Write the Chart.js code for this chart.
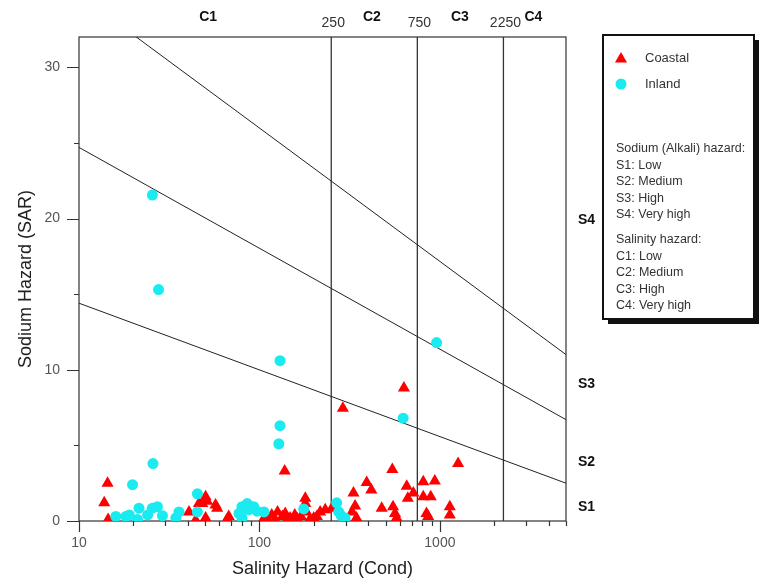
<!DOCTYPE html>
<html>
<head>
<meta charset="utf-8">
<title>Wilcox diagram</title>
<script src="https://cdn.jsdelivr.net/npm/chart.js@4.4.1/dist/chart.umd.min.js"></script>
<style>
  html, body { margin: 0; padding: 0; background: #fff; }
  #wrap { position: relative; width: 760px; height: 587px; }
</style>
</head>
<body>
<div id="wrap"><canvas id="wilcoxChart"></canvas></div>
<script>
// [conductivity, SAR] per sample
const coastalPoints = [
  [13.8, 1.2], [14.4, 2.5], [14.5, 0.1],
  [40.7, 0.6], [44.3, 0.05], [46.2, 1.15], [48.2, 1.15], [50.3, 1.6], [51.3, 1.3], [50.3, 0.2],
  [57.1, 1.05], [58.3, 0.85], [66.2, 0.1], [67.6, 0.3],
  [105, 0.1], [110, 0.2], [117, 0.4], [122, 0.1], [126, 0.6], [134, 0.3], [139, 0.5], [143, 0.1],
  [148, 0.2], [157, 0.4], [162, 0.15], [170, 0.3], [182, 0.6], [190, 0.1], [200, 0.2],
  [138, 3.3], [179.5, 1.5], [179.5, 1.15],
  [208, 0.3], [217, 0.6], [231.6, 0.75], [252, 0.85], [290, 7.45],
  [326, 0.6], [332, 1.85], [339, 1.0], [345, 0.2], [393, 2.55], [417, 2.05],
  [476, 0.85], [545, 3.4], [550, 0.95], [564, 0.5], [576, 0.2], [632, 8.8],
  [655, 2.3], [664, 1.5], [713, 1.85], [809, 2.6], [809, 1.6], [843, 0.5], [861, 0.3], [890, 1.6], [937, 2.65],
  [1135, 0.95], [1135, 0.4], [1262, 3.8]
];
const inlandPoints = [
  [16.0, 0.3], [18.2, 0.3], [19.0, 0.4], [19.8, 2.4], [21.1, 0.1], [21.5, 0.85], [24.0, 0.4],
  [25.5, 0.85], [25.5, 21.55], [25.7, 3.8], [27.2, 0.95], [27.6, 15.3], [29.0, 0.35],
  [34.4, 0.2], [35.8, 0.6], [45.3, 1.8], [45.3, 0.6],
  [77, 0.5], [80, 0.95], [80, 0.2], [85.5, 1.15], [87, 0.75], [93, 0.95], [97, 0.65], [106, 0.6],
  [128, 5.1], [130, 6.3], [130, 10.6], [176, 0.8],
  [268, 1.2], [275, 0.6], [284, 0.35], [298, 0.2],
  [626, 6.8], [959, 11.8]
];

// sodium hazard class boundaries, [cond, SAR] at both ends
const s1s2Line = [[10, 14.4], [5000, 2.5]];
const s2s3Line = [[10, 24.7], [5000, 6.7]];
const s3s4Line = [[10, 34.8], [5000, 11.0]];
// salinity hazard class boundaries (cond)
const salinityLimits = [250, 750, 2250];

const condRange = [10, 5000];
const sarRange = [0, 32];
const xTickLabels = [10, 100, 1000];
const yTickLabels = [0, 10, 20, 30];

const sodiumClasses = ['S1', 'S2', 'S3', 'S4'];
const salinityClasses = ['C1', 'C2', 'C3', 'C4'];
const legendNotes = [
  'Sodium (Alkali) hazard:', 'S1: Low', 'S2: Medium', 'S3: High', 'S4: Very high',
  'Salinity hazard:', 'C1: Low', 'C2: Medium', 'C3: High', 'C4: Very high'
];

const FONT = 'Arial, "Liberation Sans", sans-serif';
const RED = '#ff0000';
const CYAN = 'rgb(25,235,240)';

function toXY(list) {
  return list.map(p => ({x: p[0], y: p[1]}));
}

function boundary(points) {
  return {
    data: toXY(points), showLine: true, pointRadius: 0, borderColor: '#222',
    borderWidth: 1, order: 3
  };
}

const wilcoxDecor = {
  id: 'wilcoxDecor',
  beforeDatasetsDraw(chart) {
    const {ctx, chartArea: a} = chart;
    ctx.save();
    ctx.strokeStyle = '#333';
    ctx.lineWidth = 1.2;
    ctx.strokeRect(a.left, a.top, a.right - a.left, a.bottom - a.top);
    ctx.restore();
  },
  afterDraw(chart) {
    const {ctx, chartArea: a, scales: {x, y}} = chart;
    ctx.save();

    // tick marks, long on labelled values
    ctx.strokeStyle = '#333';
    ctx.lineWidth = 1.2;
    ctx.beginPath();
    for (let v = sarRange[0]; v <= 30; v += 5) {
      const py = Math.round(y.getPixelForValue(v)) + 0.5;
      const len = yTickLabels.includes(v) ? 12 : 5;
      ctx.moveTo(a.left - len, py);
      ctx.lineTo(a.left, py);
    }
    for (let d = 10; d <= 1000; d *= 10) {
      for (let m = 1; m <= 9; m++) {
        const v = m * d;
        if (v > condRange[1]) break;
        const px = Math.round(x.getPixelForValue(v)) + 0.5;
        const len = m === 1 ? 11 : 5;
        ctx.moveTo(px, a.bottom);
        ctx.lineTo(px, a.bottom + len);
      }
    }
    ctx.stroke();

    // salinity class names and limits along the top
    ctx.textAlign = 'center';
    ctx.textBaseline = 'middle';
    ctx.fillStyle = '#111';
    ctx.font = 'bold 14px ' + FONT;
    const classCond = [52, 420, 1290, 3300];
    salinityClasses.forEach((c, i) => ctx.fillText(c, x.getPixelForValue(classCond[i]), 17));
    ctx.font = '14px ' + FONT;
    ctx.fillStyle = '#333';
    salinityLimits.forEach(v => ctx.fillText(String(v), x.getPixelForValue(v) + 2, 23));

    // sodium class names on the right
    ctx.font = 'bold 14px ' + FONT;
    ctx.fillStyle = '#111';
    ctx.textAlign = 'left';
    const classSar = [0.9, 3.9, 9.05, 19.9];
    sodiumClasses.forEach((c, i) => ctx.fillText(c, a.right + 12, y.getPixelForValue(classSar[i])));

    // legend box with drop shadow
    const bx = 603, by = 35, bw = 151, bh = 284;
    ctx.fillStyle = '#111';
    ctx.fillRect(bx + 5, by + 5, bw, bh);
    ctx.fillStyle = '#fff';
    ctx.fillRect(bx, by, bw, bh);
    ctx.strokeStyle = '#111';
    ctx.lineWidth = 2;
    ctx.strokeRect(bx, by, bw, bh);

    const sets = chart.data.datasets;
    [sets[1], sets[0]].forEach((ds, i) => {
      const cy = 58 + i * 26;
      ctx.fillStyle = ds.backgroundColor;
      ctx.strokeStyle = ds.backgroundColor;
      ctx.lineWidth = 0;
      Chart.helpers.drawPoint(ctx, {pointStyle: ds.pointStyle, radius: ds.pointRadius, rotation: 0, borderWidth: 0}, 621, cy + (i === 0 ? 1 : 0));
      ctx.fillStyle = '#333';
      ctx.font = '13px ' + FONT;
      ctx.fillText(ds.label, 645, cy);
    });

    ctx.font = '12.5px ' + FONT;
    ctx.fillStyle = '#333';
    legendNotes.forEach((t, i) => {
      const ty = 149 + i * 16.4 + (i >= 5 ? 9 : 0);
      ctx.fillText(t, 616, ty);
    });

    ctx.restore();
  }
};

new Chart(document.getElementById('wilcoxChart'), {
  type: 'scatter',
  data: {
    datasets: [
      {label: 'Inland', data: toXY(inlandPoints), pointStyle: 'circle', pointRadius: 5.5,
       backgroundColor: CYAN, borderColor: CYAN, borderWidth: 0, order: 1},
      {label: 'Coastal', data: toXY(coastalPoints), pointStyle: 'triangle', pointRadius: 7,
       backgroundColor: RED, borderColor: RED, borderWidth: 0, order: 2},
      boundary(s1s2Line),
      boundary(s2s3Line),
      boundary(s3s4Line),
      ...salinityLimits.map(v => ({
        data: [{x: v, y: sarRange[0]}, {x: v, y: sarRange[1]}], showLine: true, pointRadius: 0,
        borderColor: '#333', borderWidth: 1.3, order: 3
      }))
    ]
  },
  options: {
    responsive: true,
    maintainAspectRatio: false,
    animation: false,
    events: [],
    layout: {padding: {top: 37, right: 194, left: 0, bottom: 0}},
    plugins: {legend: {display: false}, tooltip: {enabled: false}},
    scales: {
      x: {
        type: 'logarithmic', min: condRange[0], max: condRange[1],
        grid: {display: false, drawTicks: false}, border: {display: false},
        afterBuildTicks: s => { s.ticks = xTickLabels.map(v => ({value: v})); },
        afterFit: s => { s.height = 66; },
        ticks: {autoSkip: false, maxRotation: 0, padding: 14, color: '#555',
                font: {size: 14, family: FONT}, callback: v => String(v)},
        title: {display: true, text: 'Salinity Hazard (Cond)', color: '#222',
                font: {size: 18, family: FONT}, padding: {top: 0, bottom: 7}}
      },
      y: {
        min: sarRange[0], max: sarRange[1],
        grid: {display: false, drawTicks: false}, border: {display: false},
        afterBuildTicks: s => { s.ticks = yTickLabels.map(v => ({value: v})); },
        afterFit: s => { s.width = 79; },
        ticks: {padding: 19, color: '#555', font: {size: 14, family: FONT}},
        title: {display: true, text: 'Sodium Hazard (SAR)', color: '#222',
                font: {size: 18, family: FONT}, padding: {top: 15, bottom: 0}}
      }
    }
  },
  plugins: [wilcoxDecor]
});
</script>
</body>
</html>
